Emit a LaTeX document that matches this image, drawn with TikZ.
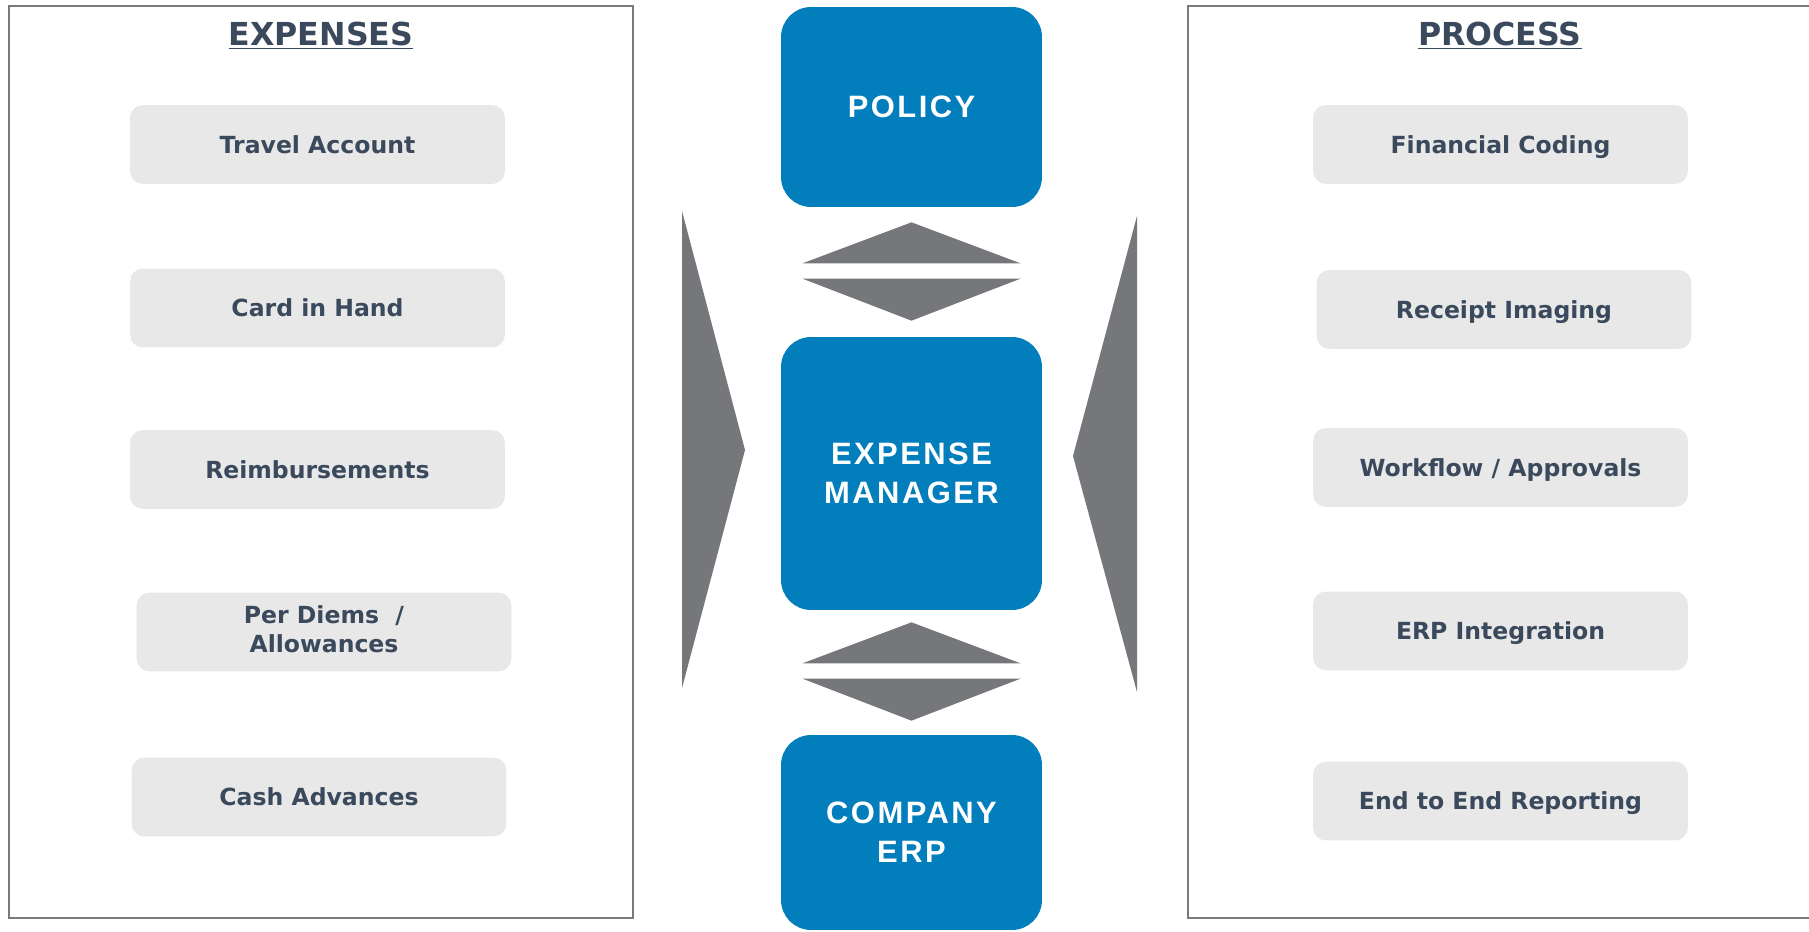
\documentclass[tikz,border=0pt]{standalone}
\usepackage{fontspec}
\setmainfont{DejaVu Sans}
\newfontfamily\blockfont{Liberation Sans}[LetterSpace=8]
\usepackage{tikz}
\usetikzlibrary{positioning,shapes,calc}
\definecolor{policyblue}{HTML}{037EBC}
\definecolor{arrowgray}{HTML}{76777A}
\definecolor{itemgray}{HTML}{E8E8E8}
\definecolor{slate}{HTML}{3A4A5C}
\definecolor{framegray}{HTML}{7A7A7A}
% keeps the capitals of every item on the same line
\newcommand{\itemstrut}{\rule[-3.2pt]{0pt}{16.2pt}}

\begin{document}
\begin{tikzpicture}[
  x=0.02cm, y=-0.02cm,
  panel/.style={draw=framegray, line width=1.5pt},
  heading/.style={
    text=slate,
    font=\bfseries\fontsize{18}{21}\selectfont,
  },
  itembox/.style={
    shape=rectangle,
    rounded corners=0.26cm,
    fill=itemgray,
    text=slate,
    align=center,
    minimum width=7.5cm,
    minimum height=1.58cm,
    font=\bfseries\fontsize{13.4}{16.6}\selectfont,
    execute at begin node=\itemstrut,
  },
  block/.style={
    shape=rectangle,
    rounded corners=0.6cm,
    fill=policyblue,
    text=white,
    align=center,
    minimum width=5.22cm,
    font=\blockfont\bfseries\fontsize{17.6}{22}\selectfont,
  }]
  \useasboundingbox (0,0) rectangle (1809,932);

  % side panels
  \draw[panel] (9,6) rectangle (633,918);
  \draw[panel] (1188,6) rectangle (1813,918);
  \node[heading] (expenses) at (321,36) {\underline{EXPENSES}};
  \node[heading] (process) at (1500,36) {\underline{PROCESS}};

  % expense types
  \node[itembox] (travel) at (317.5,144.5) {Travel Account};
  \node[itembox] (card) at (317.5,308) {Card in Hand};
  \node[itembox] (reimb) at (317.5,469.5) {Reimbursements};
  \node[itembox] (perdiem) at (324,632) {Per Diems~~/\\Allowances\itemstrut};
  \node[itembox] (cash) at (319,797) {Cash Advances};

  % process steps
  \node[itembox] (coding) at (1500.5,144.5) {Financial Coding};
  \node[itembox] (receipt) at (1504,309.5) {Receipt Imaging};
  \node[itembox] (workflow) at (1500.5,467.5) {Workflow / Approvals};
  \node[itembox] (erpint) at (1500.5,631) {ERP Integration};
  \node[itembox] (reporting) at (1500.5,801) {End to End Reporting};

  % centre column
  \node[block, minimum height=4cm] (policy) at (911.5,107) {POLICY};
  \node[block, minimum height=5.46cm] (manager) at (911.5,473.5) {EXPENSE\\MANAGER};
  \node[block, minimum height=3.9cm] (erp) at (911.5,832.5) {COMPANY\\ERP};

  % double arrows between the blocks
  \fill[arrowgray] ($(policy.south)+(0,15)$) -- ($(policy.south)+(109,56)$)
    -- ($(policy.south)+(-109,56)$) -- cycle;
  \fill[arrowgray] ($(manager.north)+(0,-16)$) -- ($(manager.north)+(109,-58)$)
    -- ($(manager.north)+(-109,-58)$) -- cycle;
  \fill[arrowgray] ($(manager.south)+(0,12)$) -- ($(manager.south)+(109,53)$)
    -- ($(manager.south)+(-109,53)$) -- cycle;
  \fill[arrowgray] ($(erp.north)+(0,-14)$) -- ($(erp.north)+(109,-56)$)
    -- ($(erp.north)+(-109,-56)$) -- cycle;

  % wedges pointing at the centre column
  \fill[arrowgray] (682,211) -- (745,450) -- (682,688) -- cycle;
  \fill[arrowgray] (1137,216) -- (1073,456) -- (1137,692) -- cycle;
\end{tikzpicture}
\end{document}
